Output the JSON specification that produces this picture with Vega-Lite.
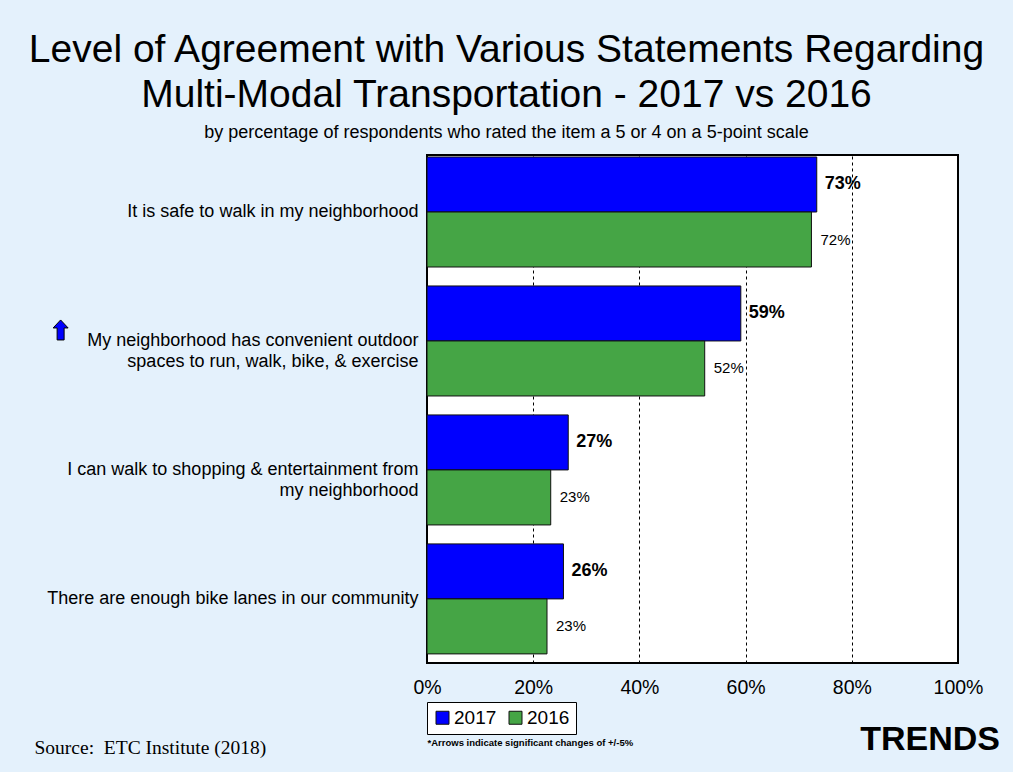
{
  "$schema": "https://vega.github.io/schema/vega-lite/v6.json",
  "width": 531,
  "height": 508,
  "autosize": {"type": "none"},
  "padding": {"left": 427, "top": 155, "right": 55, "bottom": 109},
  "background": "#e4f1fc",
  "config": {
    "font": "Liberation Sans",
    "view": {"stroke": "#000000", "strokeWidth": 2, "fill": "#ffffff"}
  },
  "title": {
    "text": ["Level of Agreement with Various Statements Regarding", "Multi-Modal Transportation - 2017 vs 2016"],
    "subtitle": "by percentage of respondents who rated the item a 5 or 4 on a 5-point scale",
    "fontSize": 39,
    "fontWeight": "normal",
    "lineHeight": 45,
    "color": "#000000",
    "subtitleFontSize": 18,
    "subtitleColor": "#000000",
    "subtitlePadding": 9,
    "anchor": "middle",
    "frame": "group",
    "dx": -186,
    "offset": 13
  },
  "data": {
    "values": [
      {"item": "It is safe to walk in my neighborhood", "year": "2017", "value": 0.734, "arrow": ""},
      {"item": "It is safe to walk in my neighborhood", "year": "2016", "value": 0.724, "arrow": ""},
      {"item": "My neighborhood has convenient outdoor|spaces to run, walk, bike, & exercise", "year": "2017", "value": 0.591, "arrow": "up"},
      {"item": "My neighborhood has convenient outdoor|spaces to run, walk, bike, & exercise", "year": "2016", "value": 0.523, "arrow": ""},
      {"item": "I can walk to shopping & entertainment from|my neighborhood", "year": "2017", "value": 0.266, "arrow": ""},
      {"item": "I can walk to shopping & entertainment from|my neighborhood", "year": "2016", "value": 0.233, "arrow": ""},
      {"item": "There are enough bike lanes in our community", "year": "2017", "value": 0.257, "arrow": ""},
      {"item": "There are enough bike lanes in our community", "year": "2016", "value": 0.226, "arrow": ""}
    ]
  },
  "encoding": {
    "y": {
      "field": "item",
      "type": "nominal",
      "sort": null,
      "scale": {"paddingInner": 0.147, "paddingOuter": 0.043, "align": 0.18},
      "axis": {
        "title": "Source:\u00a0\u00a0ETC Institute (2018)",
        "titleAngle": 0,
        "titleX": -393,
        "titleY": 598,
        "titleAlign": "left",
        "titleBaseline": "alphabetic",
        "titleFont": "Liberation Serif",
        "titleFontSize": 19.5,
        "titleFontWeight": "normal",
        "titleColor": "#000000",
        "labelExpr": "split(datum.label, '|')",
        "labelFontSize": 18,
        "labelColor": "#000000",
        "labelLineHeight": 21,
        "labelPadding": 9,
        "labelLimit": 500,
        "domain": false,
        "ticks": false,
        "grid": false
      }
    }
  },
  "layer": [
    {
      "mark": {"type": "bar", "stroke": "#111111", "strokeWidth": 1},
      "encoding": {
        "x": {
          "field": "value",
          "type": "quantitative",
          "scale": {"domain": [0, 1]},
          "axis": {
            "values": [0, 0.2, 0.4, 0.6, 0.8, 1],
            "format": ".0%",
            "labelFontSize": 19.5,
            "labelColor": "#000000",
            "labelPadding": 15,
            "labelFlush": false,
            "labelOverlap": false,
            "ticks": false,
            "domain": false,
            "grid": true,
            "gridColor": "#000000",
            "gridDash": [3, 3],
            "gridWidth": 1,
            "title": "*Arrows indicate significant changes of +/-5%",
            "titleX": 0,
            "titleY": 82,
            "titleAlign": "left",
            "titleAnchor": "start",
            "titleBaseline": "alphabetic",
            "titleFontSize": 9.5,
            "titleFontWeight": "bold",
            "titleColor": "#000000"
          }
        },
        "yOffset": {"field": "year", "type": "nominal", "sort": ["2017", "2016"], "scale": {"paddingInner": 0, "paddingOuter": 0}},
        "fill": {
          "field": "year",
          "type": "nominal",
          "sort": ["2017", "2016"],
          "scale": {"domain": ["2017", "2016"], "range": ["#0000ff", "#45a545"]},
          "legend": {
            "orient": "none",
            "legendX": 0,
            "legendY": 547,
            "direction": "horizontal",
            "title": null,
            "strokeColor": "#000000",
            "fillColor": "#ffffff",
            "padding": 6,
            "symbolType": "square",
            "symbolSize": 169,
            "symbolStrokeColor": "#111111",
            "symbolStrokeWidth": 1,
            "labelFontSize": 19,
            "labelColor": "#000000",
            "labelOffset": 2,
            "columnPadding": 9
          }
        }
      }
    },
    {
      "transform": [{"filter": "datum.year == '2017'"}],
      "mark": {"type": "text", "align": "left", "baseline": "middle", "dx": 8, "fontSize": 18, "fontWeight": "bold", "color": "#000000"},
      "encoding": {
        "x": {"field": "value", "type": "quantitative"},
        "yOffset": {"field": "year", "type": "nominal", "sort": ["2017", "2016"]},
        "text": {"field": "value", "type": "quantitative", "format": ".0%"}
      }
    },
    {
      "transform": [{"filter": "datum.year == '2016'"}],
      "mark": {"type": "text", "align": "left", "baseline": "middle", "dx": 9, "fontSize": 15, "color": "#000000"},
      "encoding": {
        "x": {"field": "value", "type": "quantitative"},
        "yOffset": {"field": "year", "type": "nominal", "sort": ["2017", "2016"]},
        "text": {"field": "value", "type": "quantitative", "format": ".0%"}
      }
    },
    {
      "transform": [{"filter": "datum.arrow == 'up'"}],
      "mark": {
        "type": "point",
        "shape": "M0,-1 L0.75,-0.2 L0.35,-0.2 L0.35,1 L-0.35,1 L-0.35,-0.2 L-0.75,-0.2 Z",
        "size": 400,
        "filled": true,
        "fill": "#0000ff",
        "stroke": "#000000",
        "strokeWidth": 1,
        "opacity": 1,
        "yOffset": -11
      },
      "encoding": {
        "x": {"datum": -0.69, "type": "quantitative"}
      }
    },
    {
      "data": {"values": [{"label": "TRENDS"}]},
      "mark": {"type": "text", "align": "right", "baseline": "middle", "dx": 42, "dy": 77, "fontSize": 34, "fontWeight": "bold", "color": "#000000"},
      "encoding": {
        "x": {"datum": 1, "type": "quantitative"},
        "y": {"value": "height"},
        "text": {"field": "label", "type": "nominal"}
      }
    }
  ]
}
